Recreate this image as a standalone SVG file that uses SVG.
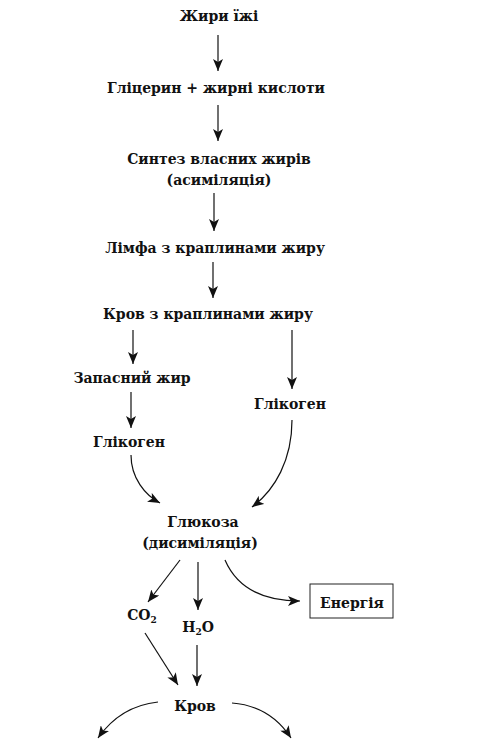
<svg xmlns="http://www.w3.org/2000/svg" width="484" height="741" viewBox="0 0 484 741">
<style>
  text { font-family: "DejaVu Serif", "Liberation Serif", serif; font-size: 14px; font-weight: bold; fill: #111; text-anchor: middle; }
  .c { fill: none; stroke: #111; stroke-width: 1.2; marker-end: url(#ah); }
  .box { fill: #fff; stroke: #222; stroke-width: 1; }
</style>
<defs>
  <marker id="ah" markerUnits="userSpaceOnUse" markerWidth="13" markerHeight="10" refX="12" refY="5" orient="auto">
    <path d="M0,0 L12,5 L0,10 L3,5 z" fill="#111"/>
  </marker>
</defs>
<rect width="484" height="741" fill="#fff"/>
<g id="connectors">
  <path class="c" d="M218,35 L218,71"/>
  <path class="c" d="M218,105 L218,141"/>
  <path class="c" d="M214,193 L214,231"/>
  <path class="c" d="M213,262 L213,298"/>
  <path class="c" d="M133,330 L133,364"/>
  <path class="c" d="M292,330 L292,389"/>
  <path class="c" d="M131,392 L131,428"/>
  <path class="c" d="M131,455 C131,478 145,495 160,503"/>
  <path class="c" d="M292,420 C292,460 275,490 252,507"/>
  <path class="c" d="M180,560 L148,602"/>
  <path class="c" d="M198,562 L198,610"/>
  <path class="c" d="M225,560 C238,590 265,601 300,601"/>
  <path class="c" d="M145,633 L178,685"/>
  <path class="c" d="M197,645 L197,686"/>
  <path class="c" d="M158,702 C130,705 112,718 98,738"/>
  <path class="c" d="M232,703 C258,705 278,718 291,738"/>
</g>
<g id="n1"><text x="219" y="21">Жири їжі</text></g>
<g id="n2"><text x="216" y="93">Гліцерин + жирні кислоти</text></g>
<g id="n3"><text x="219" y="164">Синтез власних жирів</text><text x="219" y="185">(асиміляція)</text></g>
<g id="n4"><text x="215" y="253">Лімфа з краплинами жиру</text></g>
<g id="n5"><text x="208" y="319">Кров з краплинами жиру</text></g>
<g id="n6"><text x="132" y="383">Запасний жир</text></g>
<g id="n7"><text x="129" y="447">Глікоген</text></g>
<g id="n8"><text x="290" y="409">Глікоген</text></g>
<g id="n9"><text x="203" y="527">Глюкоза</text><text x="200" y="548">(дисиміляція)</text></g>
<g id="n10"><text x="142" y="620">CO<tspan font-size="9" dy="3">2</tspan></text></g>
<g id="n11"><text x="198" y="632">H<tspan font-size="9" dy="3">2</tspan><tspan dy="-3">O</tspan></text></g>
<g id="n12"><rect class="box" x="310" y="584" width="83" height="34"/><text x="352" y="608">Енергія</text></g>
<g id="n13"><text x="195" y="711">Кров</text></g>
</svg>
